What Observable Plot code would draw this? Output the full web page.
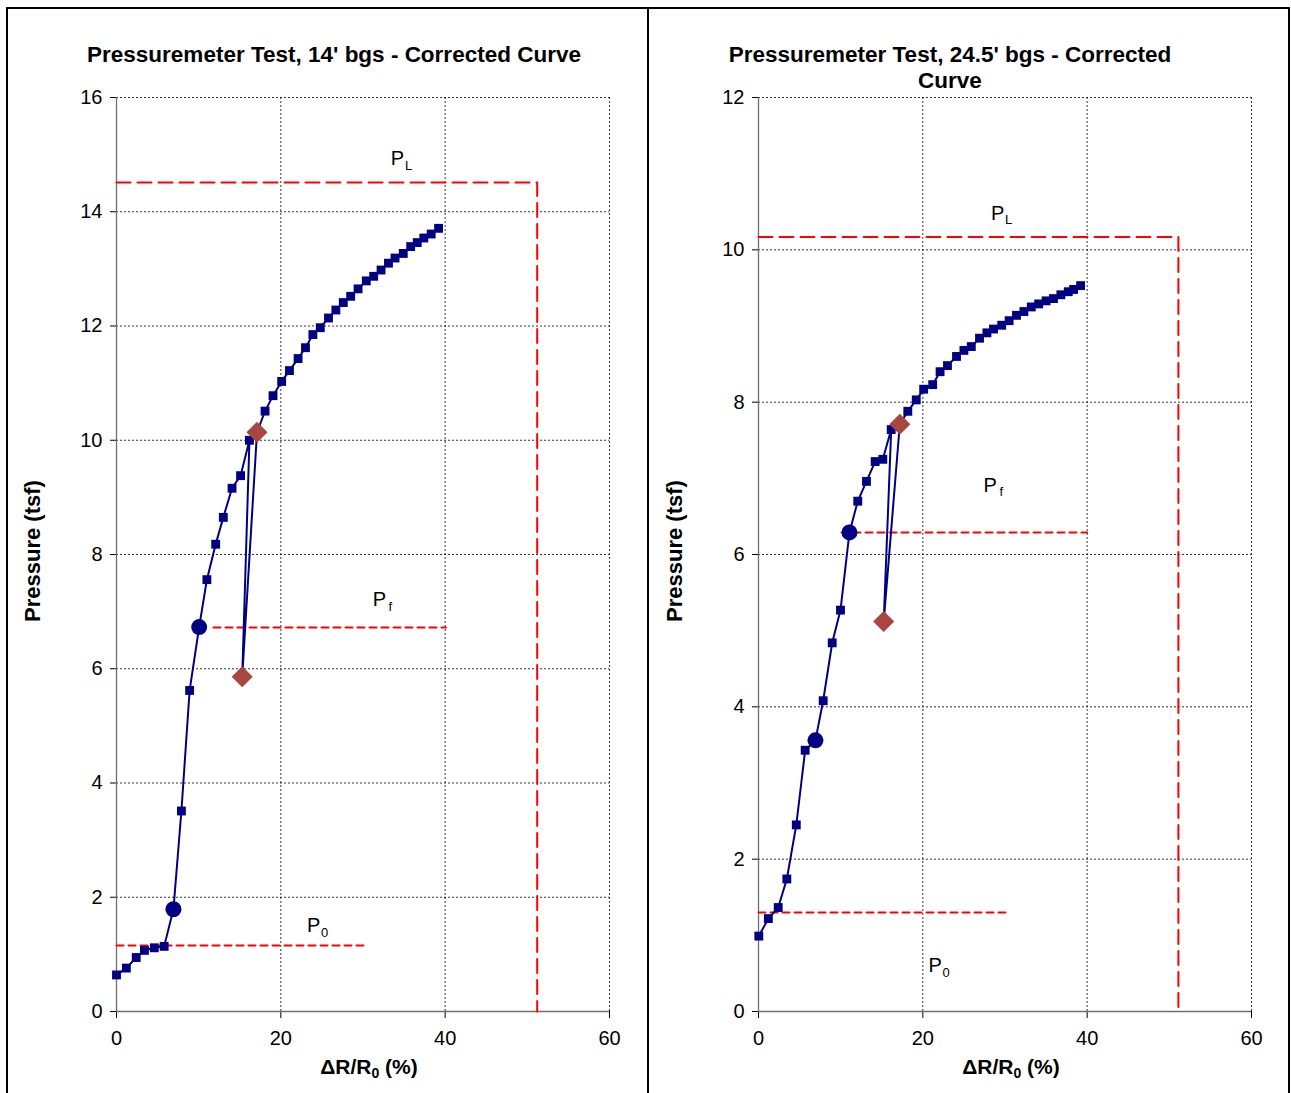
<!DOCTYPE html>
<html>
<head>
<meta charset="utf-8">
<script src="https://cdn.jsdelivr.net/npm/d3@7"></script>
<script src="https://cdn.jsdelivr.net/npm/@observablehq/plot@0.6"></script>
<style>
  html, body { margin: 0; padding: 0; background: #fff; }
  body { font-family: "Liberation Sans", Arial, sans-serif; color: #000; }
  #page { position: relative; width: 1291px; height: 1093px; overflow: hidden; }
  .bar { position: absolute; background: #000; }
  .title { position: absolute; font-weight: bold; font-size: 22.5px; text-align: center; line-height: 26px; transform: translate(-50%, 0); white-space: nowrap; }
  .ylab { position: absolute; font-weight: bold; font-size: 22px; white-space: nowrap; transform: translate(-50%, -50%) rotate(-90deg); }
  .xlab { position: absolute; font-weight: bold; font-size: 21px; white-space: nowrap; transform: translate(-50%, -50%); }
  .xlab sub { font-size: 14px; vertical-align: -4px; }
  .chart { position: absolute; }
</style>
</head>
<body>
<div id="page">
  <div class="bar" style="left:6px;top:7px;width:1284px;height:2px"></div>
  <div class="bar" style="left:6px;top:7px;width:2px;height:1086px"></div>
  <div class="bar" style="left:647px;top:7px;width:2px;height:1086px"></div>
  <div class="bar" style="left:1288px;top:7px;width:2px;height:1086px"></div>

  <div class="title" style="left:334px;top:42px">Pressuremeter Test, 14' bgs - Corrected Curve</div>
  <div class="title" style="left:950px;top:42px">Pressuremeter Test, 24.5' bgs - Corrected<br>Curve</div>

  <div class="ylab" style="left:33px;top:551px">Pressure (tsf)</div>
  <div class="ylab" style="left:675px;top:551px">Pressure (tsf)</div>
  <div class="xlab" style="left:369px;top:1068px">ΔR/R<sub>0</sub> (%)</div>
  <div class="xlab" style="left:1011px;top:1068px">ΔR/R<sub>0</sub> (%)</div>

  <div class="chart" id="left" style="left:40px;top:80px"></div>
  <div class="chart" id="right" style="left:682px;top:80px"></div>
</div>
<script>
// ---------- Data ----------
const xTicks = [0, 20, 40, 60];
const leftYTicks = [0, 2, 4, 6, 8, 10, 12, 14, 16];
const rightYTicks = [0, 2, 4, 6, 8, 10, 12];

// Left: 14' bgs corrected curve (ΔR/R0 %, pressure tsf)
const leftX = [0, 1.2, 2.4, 3.4, 4.6, 5.8, 6.93, 7.9, 8.9, 10.06, 11.0, 12.07, 13.0, 14.06, 15.1, 16.18, 15.3, 17.1, 18.08, 19.05, 20.1, 21.05, 22.1, 23.0, 23.9, 24.8, 25.8, 26.7, 27.6, 28.5, 29.4, 30.4, 31.3, 32.2, 33.1, 33.9, 34.9, 35.8, 36.6, 37.4, 38.3, 39.2];
const leftY = [0.64, 0.76, 0.945, 1.07, 1.115, 1.14, 1.79, 3.51, 5.62, 6.73, 7.56, 8.18, 8.65, 9.16, 9.38, 10.0, 5.86, 10.14, 10.51, 10.78, 11.03, 11.22, 11.43, 11.62, 11.85, 11.97, 12.14, 12.28, 12.41, 12.52, 12.65, 12.79, 12.87, 12.98, 13.10, 13.19, 13.27, 13.39, 13.46, 13.54, 13.61, 13.71];
const leftCircleX = [6.93, 10.06];
const leftCircleY = [1.79, 6.73];
const leftDiamondX = [15.3, 17.1];
const leftDiamondY = [5.86, 10.14];
const leftPL = 14.51, leftPLx = 51.2;
const leftPf = 6.72, leftPfFrom = 11.8, leftPfTo = 40.1;
const leftP0 = 1.155, leftP0To = 30.3;
const leftLabelX = [34.2, 32.0, 24.0];
const leftLabelY = [14.93, 7.21, 1.5];

// Right: 24.5' bgs corrected curve
const rightX = [0.04, 1.2, 2.4, 3.45, 4.6, 5.68, 6.93, 7.87, 8.97, 9.98, 11.07, 12.08, 13.14, 14.2, 15.13, 16.15, 15.24, 17.2, 18.17, 19.2, 20.1, 21.2, 22.1, 23.0, 24.1, 25.0, 25.9, 26.9, 27.8, 28.6, 29.6, 30.5, 31.4, 32.3, 33.2, 34.1, 35.0, 35.9, 36.8, 37.7, 38.35, 39.2];
const rightY = [0.99, 1.22, 1.365, 1.74, 2.45, 3.43, 3.56, 4.08, 4.84, 5.27, 6.29, 6.70, 6.96, 7.22, 7.25, 7.64, 5.12, 7.71, 7.88, 8.03, 8.17, 8.23, 8.40, 8.48, 8.60, 8.68, 8.73, 8.84, 8.91, 8.96, 9.01, 9.07, 9.14, 9.19, 9.25, 9.29, 9.33, 9.36, 9.41, 9.45, 9.48, 9.53];
const rightCircleX = [6.93, 11.07];
const rightCircleY = [3.56, 6.29];
const rightDiamondX = [15.24, 17.2];
const rightDiamondY = [5.12, 7.71];
const rightPL = 10.17, rightPLx = 51.1;
const rightPf = 6.29, rightPfFrom = 10.1, rightPfTo = 40.0;
const rightP0 = 1.30, rightP0To = 30.3;
const rightLabelX = [29.1, 28.2, 21.5];
const rightLabelY = [10.48, 6.91, 0.6];

const labelSubs = ["L", "f", "0"];

// ---------- Drawing ----------
const NAVY = "#000080";
const RED = "#ff0000";
const DIAMOND = "#a8463f";

function zipPts(xs, ys) { return xs.map((x, i) => ({x, y: ys[i]})); }

function panel(cfg) {
  const pts = zipPts(cfg.x, cfg.y);
  const circles = zipPts(cfg.cx, cfg.cy);
  const diamonds = zipPts(cfg.dx, cfg.dy);
  const plLine = [{x: 0, y: cfg.pl}, {x: cfg.plx, y: cfg.pl}, {x: cfg.plx, y: 0}];
  const pfLine = [{x: cfg.pfFrom, y: cfg.pf}, {x: cfg.pfTo, y: cfg.pf}];
  const p0Line = [{x: 0, y: cfg.p0}, {x: cfg.p0To, y: cfg.p0}];
  const labels = cfg.lx.map((x, i) => ({x, y: cfg.ly[i], sub: labelSubs[i]}));
  return Plot.plot({
    width: 599,
    height: 981,
    marginLeft: 76,
    marginRight: 30,
    marginTop: 17,
    marginBottom: 50,
    style: {fontFamily: "'Liberation Sans', Arial, sans-serif", fontSize: "20px", color: "#000", background: "transparent", overflow: "visible"},
    x: {domain: [0, 60], ticks: xTicks, tickSize: 7, tickPadding: 12, label: null},
    y: {domain: [0, cfg.ymax], ticks: cfg.yTicks, tickSize: 6, tickPadding: 8, label: null},
    marks: [
      Plot.ruleX(xTicks.slice(1), {stroke: "#000", strokeWidth: 1, strokeDasharray: "2,2", strokeOpacity: 0.8}),
      Plot.ruleY(cfg.yTicks.slice(1), {stroke: "#000", strokeWidth: 1, strokeDasharray: "2,2", strokeOpacity: 0.8}),
      Plot.ruleX([0], {stroke: "#6e6e6e", strokeWidth: 1.3}),
      Plot.ruleY([0], {stroke: "#6e6e6e", strokeWidth: 1.3}),
      Plot.line(plLine, {x: "x", y: "y", stroke: RED, strokeWidth: 2, strokeDasharray: "14,7"}),
      Plot.line(pfLine, {x: "x", y: "y", stroke: RED, strokeWidth: 2, strokeDasharray: "7,5"}),
      Plot.line(p0Line, {x: "x", y: "y", stroke: RED, strokeWidth: 2, strokeDasharray: "7,5"}),
      Plot.line(pts, {x: "x", y: "y", stroke: NAVY, strokeWidth: 2}),
      Plot.dot(pts, {x: "x", y: "y", symbol: "square", r: 5, fill: NAVY, stroke: null}),
      Plot.dot(circles, {x: "x", y: "y", r: 8, fill: NAVY, stroke: null}),
      Plot.dot(diamonds, {x: "x", y: "y", symbol: "diamond2", r: 9.5, fill: DIAMOND, stroke: null}),
      Plot.text(labels, {x: "x", y: "y", text: () => "P", fontSize: 20, fill: "#000"}),
      Plot.text(labels, {x: "x", y: "y", text: "sub", fontSize: 13, dx: 11, dy: 7, fill: "#000"})
    ]
  });
}

document.getElementById("left").appendChild(panel({
  x: leftX, y: leftY, cx: leftCircleX, cy: leftCircleY, dx: leftDiamondX, dy: leftDiamondY,
  pl: leftPL, plx: leftPLx, pf: leftPf, pfFrom: leftPfFrom, pfTo: leftPfTo, p0: leftP0, p0To: leftP0To,
  lx: leftLabelX, ly: leftLabelY, ymax: 16, yTicks: leftYTicks
}));
document.getElementById("right").appendChild(panel({
  x: rightX, y: rightY, cx: rightCircleX, cy: rightCircleY, dx: rightDiamondX, dy: rightDiamondY,
  pl: rightPL, plx: rightPLx, pf: rightPf, pfFrom: rightPfFrom, pfTo: rightPfTo, p0: rightP0, p0To: rightP0To,
  lx: rightLabelX, ly: rightLabelY, ymax: 12, yTicks: rightYTicks
}));
</script>
</body>
</html>
